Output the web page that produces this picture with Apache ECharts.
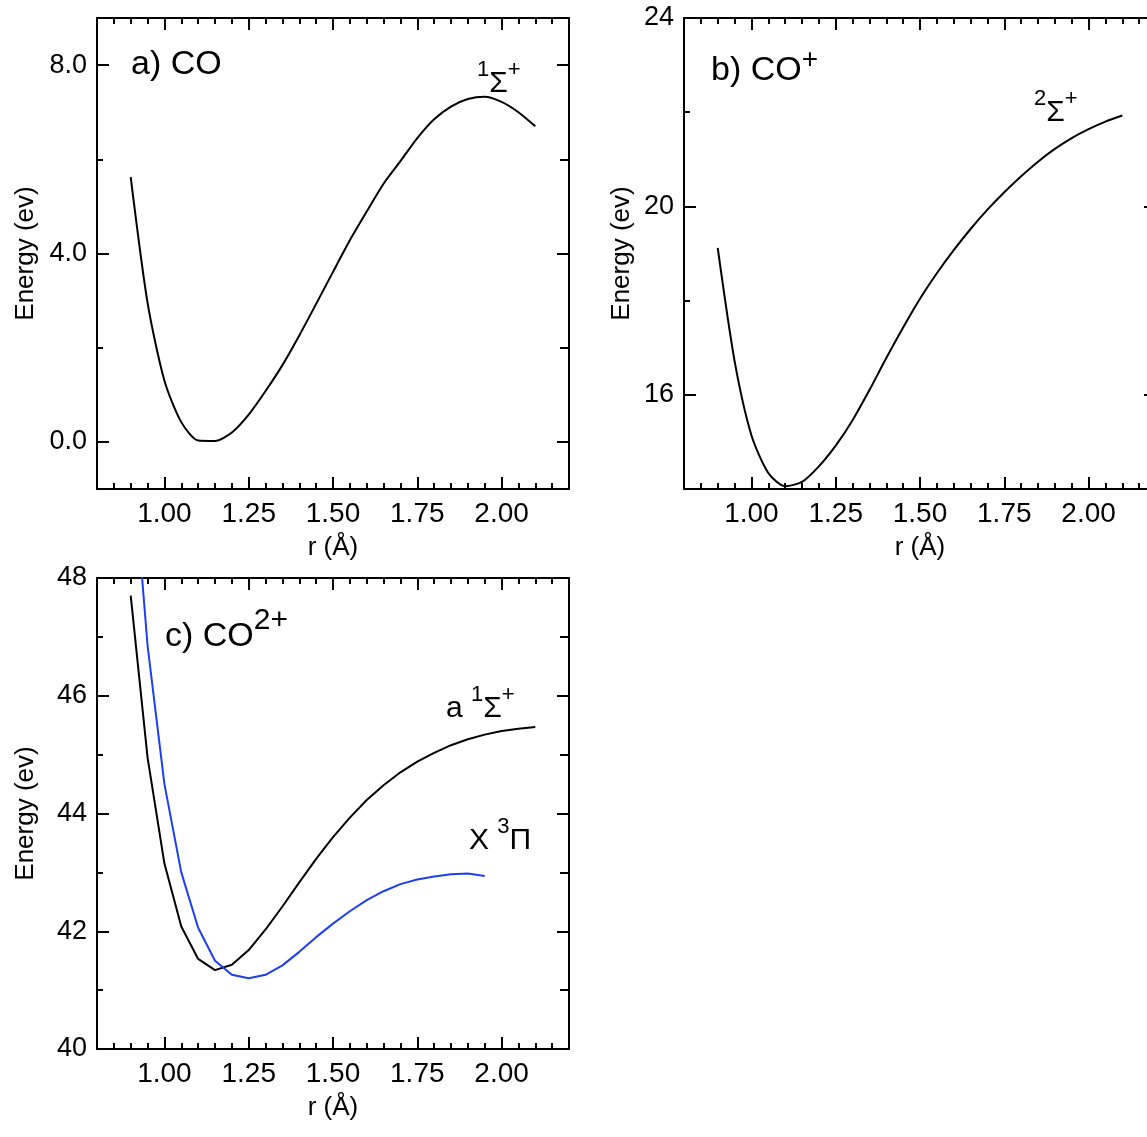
<!DOCTYPE html>
<html lang="en" style="height: 100%">
<head>
  <meta charset="utf-8">
</head>
<body style="height: 100%; margin: 0">
  <div id="container" style="width: 1147px; height: 1137px"></div>
  <script type="text/javascript" src="https://cdn.jsdelivr.net/npm/echarts@6/dist/echarts.min.js"></script>
  <script type="text/javascript">
    // bond length r (Å)
    var rGrid = [0.90, 0.95, 1.00, 1.05, 1.10, 1.15, 1.20, 1.25, 1.30, 1.35, 1.40, 1.45, 1.50,
                 1.55, 1.60, 1.65, 1.70, 1.75, 1.80, 1.85, 1.90, 1.95, 2.00, 2.05, 2.10];
    var rPi = [0.90, 0.95, 1.00, 1.05, 1.10, 1.15, 1.20, 1.25, 1.30, 1.35, 1.40, 1.45, 1.50,
               1.55, 1.60, 1.65, 1.70, 1.75, 1.80, 1.85, 1.90, 1.95];

    // a) CO  1Σ+
    var eCO = [5.62, 2.95, 1.30, 0.42, 0.03, 0.02, 0.20, 0.58, 1.08, 1.63, 2.26, 2.93, 3.61,
               4.28, 4.89, 5.48, 5.96, 6.45, 6.85, 7.12, 7.28, 7.33, 7.22, 7.00, 6.70];
    // b) CO+  2Σ+
    var eCOp = [19.12, 16.72, 15.14, 14.34, 14.06, 14.15, 14.48, 14.92, 15.46, 16.10, 16.78, 17.43, 18.04,
                18.58, 19.07, 19.52, 19.93, 20.30, 20.64, 20.95, 21.22, 21.45, 21.64, 21.80, 21.93];
    // c) CO2+  a 1Σ+ and X 3Π
    var eSigma = [47.70, 44.95, 43.15, 42.08, 41.53, 41.34, 41.43, 41.68, 42.03, 42.42, 42.83, 43.23, 43.60,
                  43.93, 44.23, 44.48, 44.70, 44.88, 45.03, 45.16, 45.26, 45.34, 45.40, 45.44, 45.47];
    var ePi = [50.40, 46.85, 44.50, 43.00, 42.06, 41.50, 41.26, 41.20, 41.26, 41.42, 41.65, 41.90, 42.13,
               42.34, 42.53, 42.68, 42.80, 42.88, 42.93, 42.97, 42.98, 42.94];

    // ticks
    var xMajor = [1.00, 1.25, 1.50, 1.75, 2.00];
    var yMajorA = [0, 4, 8], yMinorA = [2, 6];
    var yMajorB = [16, 20, 24], yMinorB = [18, 22];
    var yMajorC = [40, 42, 44, 46, 48], yMinorC = [41, 43, 45, 47];

    var FONT = "'Liberation Sans', Arial, Helvetica, sans-serif";
    var BLACK = '#000';
    var BLUE = '#1c3ff0';

    var dom = document.getElementById('container');
    var myChart = echarts.init(dom, null, { renderer: 'canvas' });

    function pairs(xs, ys) {
      return xs.map(function (x, i) { return [x, ys[i]]; });
    }

    var lineSt = { color: BLACK, width: 2 };

    function tick(len, values) {
      var t = { show: true, inside: true, length: len, lineStyle: lineSt };
      if (values) t.customValues = values;
      return t;
    }

    function xAxesFor(g) {
      var base = { gridIndex: g, type: 'value', min: 0.8, max: 2.2, splitLine: { show: false } };
      return [
        Object.assign({}, base, {
          position: 'bottom',
          axisLine: { show: true, onZero: false, lineStyle: lineSt },
          axisTick: tick(12, xMajor),
          axisLabel: {
            show: true, customValues: xMajor, margin: 11, color: BLACK, fontSize: 28, fontFamily: FONT,
            formatter: function (v) { return v.toFixed(2); }
          },
          name: 'r (Å)', nameLocation: 'middle', nameGap: 46,
          nameTextStyle: { color: BLACK, fontSize: 26, fontFamily: FONT }
        }),
        Object.assign({}, base, {
          position: 'bottom', interval: 0.05,
          axisLine: { show: false, onZero: false },
          axisTick: tick(6),
          axisLabel: { show: false }
        }),
        Object.assign({}, base, {
          position: 'top',
          axisLine: { show: true, onZero: false, lineStyle: lineSt },
          axisTick: tick(12, xMajor),
          axisLabel: { show: false }
        }),
        Object.assign({}, base, {
          position: 'top', interval: 0.05,
          axisLine: { show: false, onZero: false },
          axisTick: tick(6),
          axisLabel: { show: false }
        })
      ];
    }

    function yAxesFor(g, min, max, major, minor, digits, gap) {
      var base = { gridIndex: g, type: 'value', min: min, max: max, splitLine: { show: false } };
      return [
        Object.assign({}, base, {
          position: 'left',
          axisLine: { show: true, onZero: false, lineStyle: lineSt },
          axisTick: tick(12, major),
          axisLabel: {
            show: true, customValues: major, margin: 10, color: BLACK, fontSize: 27, fontFamily: FONT,
            formatter: function (v) { return v.toFixed(digits); }
          },
          name: 'Energy (ev)', nameLocation: 'middle', nameGap: gap,
          nameTextStyle: { color: BLACK, fontSize: 26, fontFamily: FONT }
        }),
        Object.assign({}, base, {
          position: 'left',
          axisLine: { show: false, onZero: false },
          axisTick: tick(6, minor),
          axisLabel: { show: false }
        }),
        Object.assign({}, base, {
          position: 'right',
          axisLine: { show: true, onZero: false, lineStyle: lineSt },
          axisTick: tick(12, major),
          axisLabel: { show: false }
        }),
        Object.assign({}, base, {
          position: 'right',
          axisLine: { show: false, onZero: false },
          axisTick: tick(9, minor),
          axisLabel: { show: false }
        })
      ];
    }

    function curve(g, xs, ys, color, smooth) {
      return {
        type: 'line', xAxisIndex: g * 4, yAxisIndex: g * 4,
        data: pairs(xs, ys), symbol: 'none', smooth: smooth,
        lineStyle: { color: color, width: 2 }
      };
    }

    function richLabel(x, y, text, mainSize, mainLine, supSize) {
      return {
        type: 'text', x: x, y: y,
        style: {
          text: text, fill: BLACK, verticalAlign: 'middle', align: 'left',
          fontFamily: FONT, fontSize: mainSize,
          rich: {
            m: { fontSize: mainSize, lineHeight: mainLine, verticalAlign: 'bottom', fontFamily: FONT, fill: BLACK },
            s: { fontSize: supSize, lineHeight: supSize, verticalAlign: 'top', fontFamily: FONT, fill: BLACK }
          }
        }
      };
    }

    var option = {
      animation: false,
      backgroundColor: '#fff',
      textStyle: { fontFamily: FONT },
      grid: [
        { left: 97, top: 18, width: 472, height: 471, outerBoundsMode: 'none' },
        { left: 684, top: 18, width: 472, height: 471, outerBoundsMode: 'none' },
        { left: 97, top: 578, width: 472, height: 471, outerBoundsMode: 'none' }
      ],
      xAxis: [].concat(xAxesFor(0), xAxesFor(1), xAxesFor(2)),
      yAxis: [].concat(
        yAxesFor(0, -1, 9, yMajorA, yMinorA, 1, 58),
        yAxesFor(1, 14, 24, yMajorB, yMinorB, 0, 49),
        yAxesFor(2, 40, 48, yMajorC, yMinorC, 0, 58)
      ),
      series: [
        curve(0, rGrid, eCO, BLACK, 0.25),
        curve(1, rGrid, eCOp, BLACK, 0.25),
        curve(2, rGrid, eSigma, BLACK, false),
        curve(2, rPi, ePi, BLUE, false)
      ],
      graphic: [
        richLabel(131, 62, '{m|a) CO}', 34, 40, 26),
        richLabel(711, 67, '{m|b) CO}{s|+}', 34, 42, 28),
        richLabel(165, 630, '{m|c) CO}{s|2+}', 34, 48, 30),
        richLabel(477, 79, '{s|1}{m|Σ}{s|+}', 30, 40, 22),
        richLabel(1034, 108, '{s|2}{m|Σ}{s|+}', 30, 40, 22),
        richLabel(446, 704, '{m|a }{s|1}{m|Σ}{s|+}', 30, 40, 22),
        richLabel(469, 836, '{m|X }{s|3}{m|Π}', 30, 40, 22)
      ]
    };

    myChart.setOption(option);
    window.addEventListener('resize', myChart.resize);
  </script>
</body>
</html>
